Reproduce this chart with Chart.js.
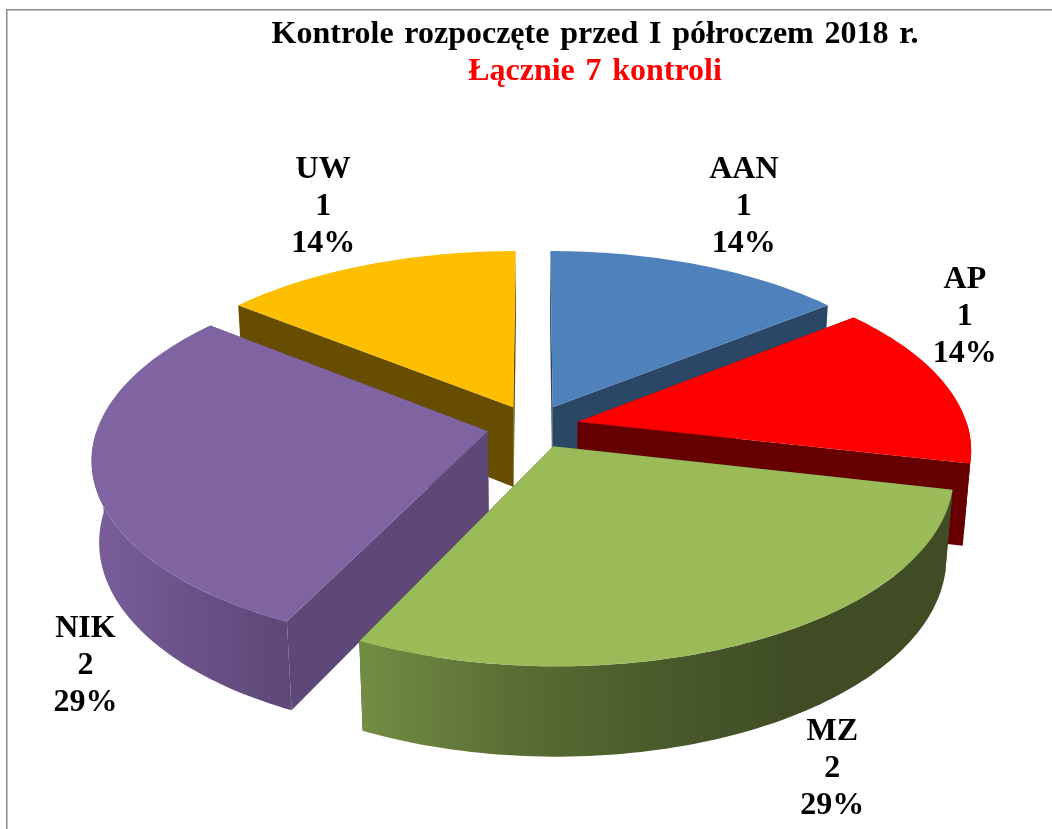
<!DOCTYPE html>
<html lang="pl">
<head>
    <meta charset="UTF-8">
    <title>Kontrole rozpoczęte przed I półroczem 2018 r.</title>
    <style>
        html, body { margin: 0; padding: 0; background: #fff; }
        canvas { display: block; }
    </style>
</head>
<body>
<canvas id="chart" width="1052" height="829"></canvas>

<script src="https://cdn.jsdelivr.net/npm/chart.js"></script>
<script>
    const categories = ['AAN', 'AP', 'MZ', 'NIK', 'UW'];
    const values = [1, 1, 2, 2, 1];
    const titleText = 'Kontrole rozpoczęte przed I półroczem 2018 r.';
    const subtitleText = 'Łącznie 7 kontroli';

    const topColors = ['#4f81bd', '#ff0000', '#9bbb59', '#8064a2', '#fdbf00'];
    const sideColors = ['#2a4766', '#660000', '#3f4c24', '#5d4877', '#664d00'];
    // rim wall shading, left to right
    const rimColors = [
        null,
        ['#660000', '#660000'],
        ['#728e44', '#5c6e35', '#4a5b2b', '#3f4c24', '#3f4c24'],
        ['#7a5f9b', '#6a5288', '#5d4877'],
        null
    ];
    // slices are painted back to front
    const paintOrder = [4, 0, 1, 3, 2];

    const serif = '"Liberation Serif", "Times New Roman", serif';
    const labelLineHeight = 37;
    // where each label sits relative to the middle of its slice's rim
    const labelNudge = [[45, -58], [21, -66], [79, 127], [-7, 192], [-44, -58]];

    // 3D look of the pie, all relative to the radius Chart.js works out
    const view = {
        shiftX: -62,      // title is centred further right than the pie
        stretchX: 1.246,
        squashY: 0.585,
        perspective: 0.14,
        depth: 0.262,
        depthW: 0.017
    };

    function project(arc, X, Y, lower) {
        const r = arc.outerRadius;
        const w = 1 - view.perspective * Y + (lower ? view.depthW : 0);
        const drop = lower ? view.depth : 0;
        return {
            x: arc.x + view.shiftX + r * view.stretchX * X / w,
            y: arc.y + r * (view.squashY * Y + drop) / w
        };
    }

    function planePoint(arc, angle, radius) {
        const mid = (arc.startAngle + arc.endAngle) / 2;
        const shift = arc.options.offset / arc.outerRadius;
        return {
            X: radius * Math.cos(angle) + shift * Math.cos(mid),
            Y: radius * Math.sin(angle) + shift * Math.sin(mid)
        };
    }

    function rimPoints(arc, from, to, lower) {
        const pts = [];
        const steps = Math.max(2, Math.ceil(Math.abs(to - from) / 0.02));
        for (let i = 0; i <= steps; i++) {
            const p = planePoint(arc, from + (to - from) * i / steps, 1);
            pts.push(project(arc, p.X, p.Y, lower));
        }
        return pts;
    }

    function fillPoly(ctx, pts, fill) {
        ctx.beginPath();
        pts.forEach((p, i) => i ? ctx.lineTo(p.x, p.y) : ctx.moveTo(p.x, p.y));
        ctx.closePath();
        ctx.fillStyle = fill;
        ctx.fill();
    }

    function drawSlice(ctx, arc, i) {
        const c = planePoint(arc, 0, 0);
        const top = project(arc, c.X, c.Y, false);
        const low = project(arc, c.X, c.Y, true);

        // radial walls
        [arc.startAngle, arc.endAngle].forEach(a => {
            const rimTop = rimPoints(arc, a, a, false)[0];
            const rimLow = rimPoints(arc, a, a, true)[0];
            fillPoly(ctx, [top, rimTop, rimLow, low], sideColors[i]);
        });

        // outer wall, only the part facing the viewer
        const from = Math.max(arc.startAngle, 0);
        const to = Math.min(arc.endAngle, Math.PI);
        if (rimColors[i] && to > from) {
            const upper = rimPoints(arc, from, to, false);
            const lower = rimPoints(arc, from, to, true);
            const xs = upper.concat(lower).map(p => p.x);
            const grad = ctx.createLinearGradient(Math.min(...xs), 0, Math.max(...xs), 0);
            rimColors[i].forEach((col, k) => grad.addColorStop(k / (rimColors[i].length - 1), col));
            fillPoly(ctx, upper.concat(lower.reverse()), grad);
        }

        // top face
        fillPoly(ctx, [top].concat(rimPoints(arc, arc.startAngle, arc.endAngle, false)), arc.options.backgroundColor);
    }

    function drawLabel(ctx, arc, i, total) {
        const mid = (arc.startAngle + arc.endAngle) / 2;
        const p = planePoint(arc, mid, 1);
        const rim = project(arc, p.X, p.Y, false);
        const x = rim.x + labelNudge[i][0];
        const y = rim.y + labelNudge[i][1];
        const lines = [categories[i], String(values[i]), Math.round(values[i] / total * 100) + '%'];
        ctx.font = 'bold 32px ' + serif;
        ctx.fillStyle = '#000';
        ctx.textAlign = 'center';
        ctx.textBaseline = 'middle';
        lines.forEach((t, k) => ctx.fillText(t, x, y + (k - 1) * labelLineHeight));
    }

    const pie3d = {
        id: 'pie3d',
        beforeDraw(chart) {
            const ctx = chart.ctx;
            ctx.save();
            ctx.strokeStyle = '#8a8a8a';
            ctx.lineWidth = 1.5;
            ctx.beginPath();
            ctx.moveTo(6.75, chart.height);
            ctx.lineTo(6.75, 9.75);
            ctx.lineTo(chart.width, 9.75);
            ctx.stroke();
            ctx.restore();
            ctx.wordSpacing = '2.7px';
        },
        // replaces the flat arcs, geometry still comes from the arc elements
        beforeDatasetDraw(chart) {
            const ctx = chart.ctx;
            const arcs = chart.getDatasetMeta(0).data;
            const total = values.reduce((a, b) => a + b, 0);
            ctx.save();
            ctx.wordSpacing = '0px';
            paintOrder.forEach(i => drawSlice(ctx, arcs[i], i));
            arcs.forEach((arc, i) => drawLabel(ctx, arc, i, total));
            ctx.restore();
            return false;
        }
    };

    new Chart(document.getElementById('chart'), {
        type: 'pie',
        data: {
            labels: categories,
            datasets: [{
                data: values,
                backgroundColor: topColors,
                borderWidth: 0,
                offset: 37
            }]
        },
        plugins: [pie3d],
        options: {
            responsive: false,
            animation: false,
            layout: { padding: { left: 138, right: 0, top: 16, bottom: 71 } },
            plugins: {
                legend: { display: false },
                tooltip: { enabled: false },
                title: {
                    display: true,
                    text: titleText,
                    color: '#000',
                    font: { family: serif, size: 32, weight: 'bold', lineHeight: 37 / 32 },
                    padding: { top: 0, bottom: 0 }
                },
                subtitle: {
                    display: true,
                    text: subtitleText,
                    color: '#ff0000',
                    font: { family: serif, size: 32, weight: 'bold', lineHeight: 37 / 32 },
                    padding: { top: 0, bottom: 5 }
                }
            }
        }
    });
</script>
</body>
</html>
